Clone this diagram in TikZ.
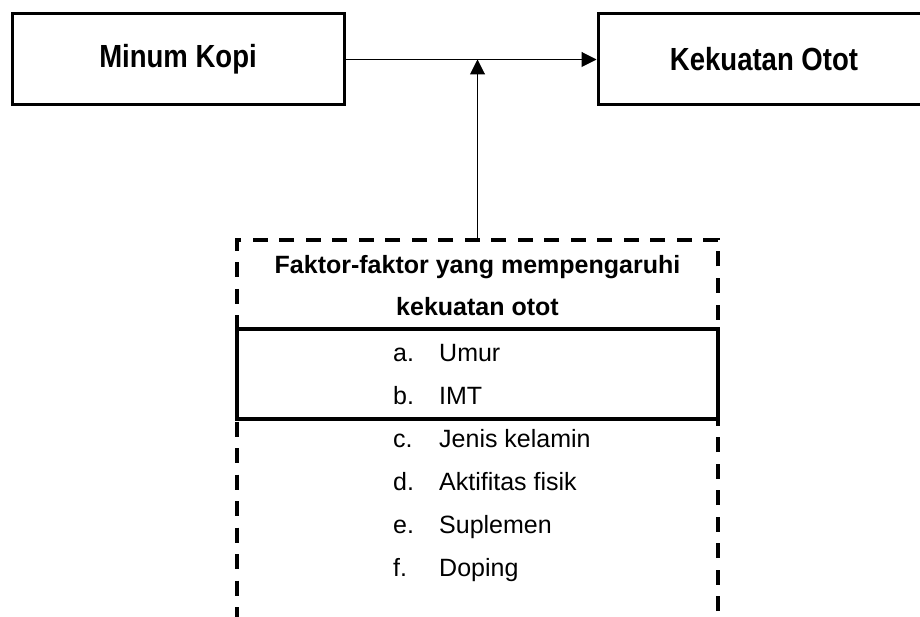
\documentclass[tikz,border=0pt]{standalone}
\usepackage{fontspec}
\setmainfont{Liberation Sans}
\newfontfamily\narrowfont[FakeStretch=0.86]{Liberation Sans}
\usetikzlibrary{arrows.meta}
\begin{document}
\begin{tikzpicture}[x=1pt,y=-1pt,
    kotak/.style={draw, line width=3pt, minimum width=332pt, minimum height=91pt, inner sep=0pt,
      font=\narrowfont\bfseries\fontsize{32}{36}\selectfont},
    garis/.style={draw, line width=3.4pt, minimum width=481pt, inner sep=0pt},
    panah/.style={line width=1pt, -{Triangle[length=15pt,width=15pt]}},
    judul/.style={anchor=base, inner sep=0pt, font=\bfseries\fontsize{25}{30}\selectfont},
    butir/.style={anchor=base west, inner sep=0pt, font=\fontsize{25}{30}\selectfont}]
  \clip (0,0) rectangle (920,617);
  \node[kotak] (kopi) at (178,59.5) {Minum Kopi};
  \node[kotak] (otot) at (764,59.5) {Kekuatan Otot};

  \node[garis, dash pattern=on 15pt off 11.5pt, minimum height=420pt] (faktor) at (477.5,450) {};
  \node[garis, minimum height=90pt] (umurimt) at (477.5,374) {};

  \node[judul] (judul1) at (477.5,274) {Faktor-faktor yang mempengaruhi};
  \node[judul] (judul2) at (477.5,316) {kekuatan otot};

  \foreach \huruf/\isi [count=\i from 0] in {a./Umur, b./IMT, c./Jenis kelamin, d./Aktifitas fisik, e./Suplemen, f./Doping}
  {
    \node[butir] (huruf\i) at (393,{361+43*\i}) {\huruf};
    \node[butir] (isi\i) at (439,{361+43*\i}) {\isi};
  }

  \draw[panah] (kopi) -- (otot);
  \draw[panah] (faktor.north) -- (faktor.north |- kopi.east);
\end{tikzpicture}
\end{document}
